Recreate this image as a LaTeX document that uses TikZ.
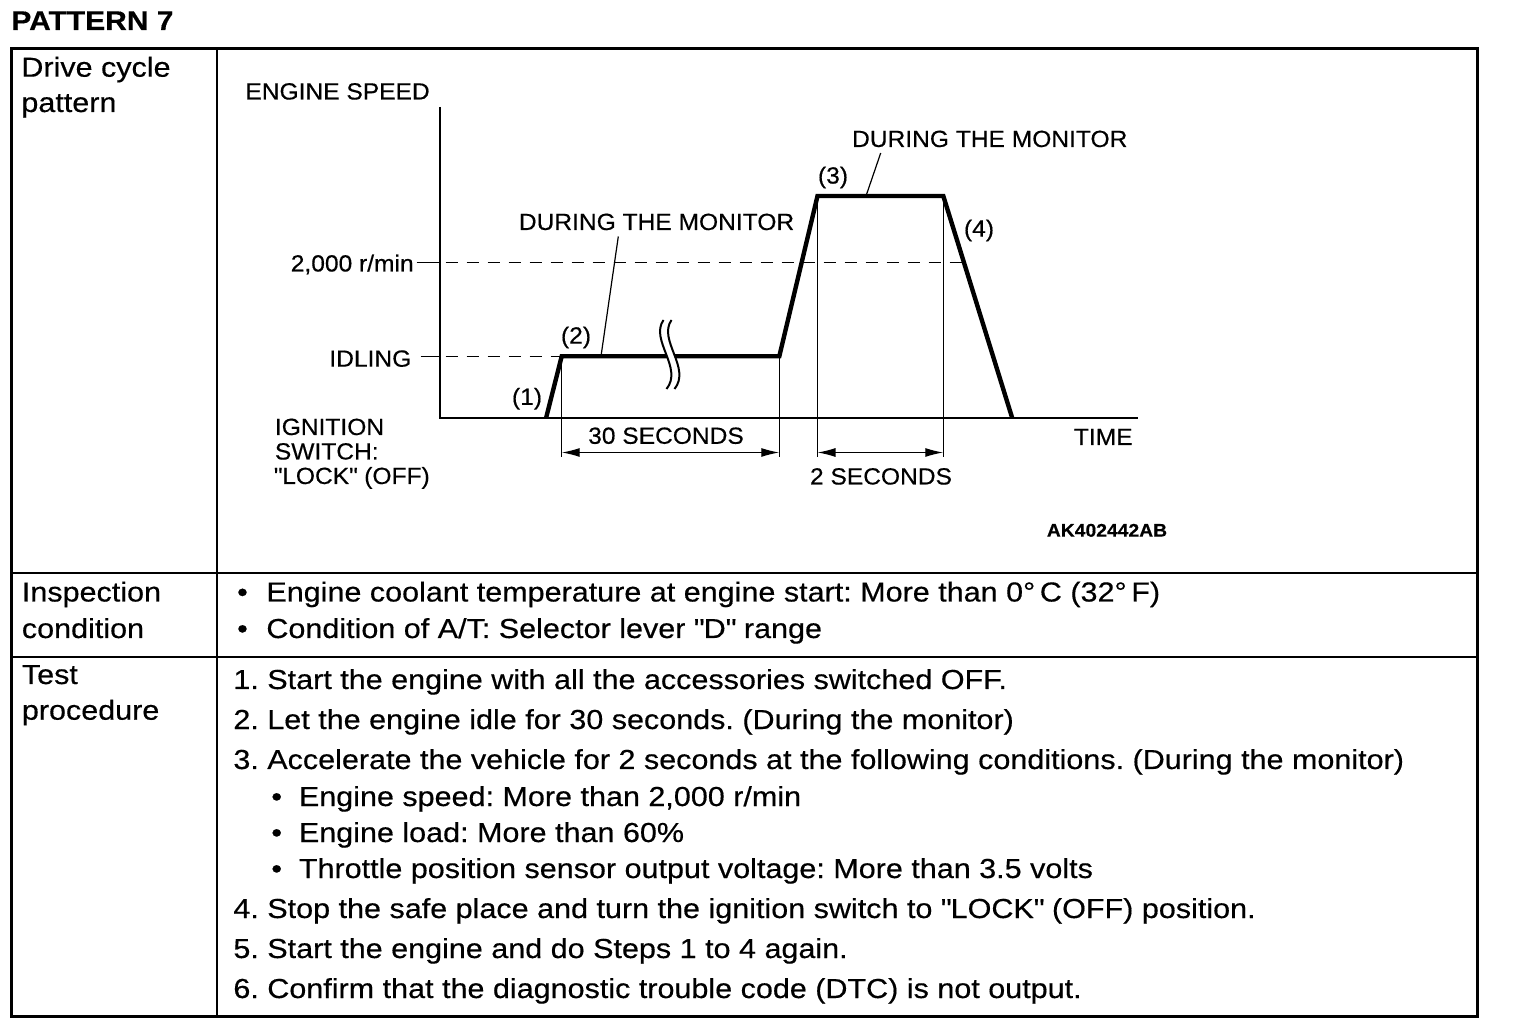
\documentclass[tikz,border=0pt]{standalone}
\usepackage{fontspec}
\setmainfont[FakeStretch=1.11, FakeBold=0.4]{Liberation Sans}
\newfontfamily\chartfont[FakeStretch=1.05, FakeBold=0.4]{Liberation Sans}
\usetikzlibrary{arrows.meta}

\begin{document}
\begin{tikzpicture}[x=0.5pt,y=-0.5pt,
  celltext/.style={anchor=base west, inner sep=0pt, font=\frenchspacing\fontsize{13.75pt}{13.75pt}\selectfont},
  charttext/.style={inner sep=0pt, font=\chartfont\fontsize{11.7pt}{11.7pt}\selectfont},
  tableline/.style={line width=1.1pt},
  runline/.style={line width=2.2pt, line join=miter},
  axisline/.style={line width=1pt},
  thinline/.style={line width=0.6pt},
  levelline/.style={line width=0.75pt, dash pattern=on 6pt off 4.5pt},
  spanarrow/.style={line width=0.6pt, {Latex[length=9pt,width=4.5pt]}-{Latex[length=9pt,width=4.5pt]}}]%
\useasboundingbox (0,0) rectangle (1520,1036);%
% table frame
\node[font=\bfseries\fontsize{13.5pt}{13.5pt}\selectfont, anchor=base west, inner sep=0pt] (title) at (11,30) {PATTERN 7};%
\draw[tableline, line width=1.3pt] (11.5,48.5) rectangle (1477.3,1016.7);%
\draw[tableline] (217.3,48.5) -- (217.3,1016.7);%
\draw[tableline] (11.5,573.3) -- (1477.3,573.3);%
\draw[tableline] (11.5,657) -- (1477.3,657);%
\node[celltext] (cycle1) at (21,76.7) {Drive cycle};%
\node[celltext] (cycle2) at (21,112) {pattern};%
\node[celltext] (insp1) at (21.5,601.5) {Inspection};%
\node[celltext] (insp2) at (21.5,638) {condition};%
\node[celltext] (test1) at (21.5,684) {Test};%
\node[celltext] (test2) at (21.5,719.7) {procedure};%
% chart
\coordinate (org) at (439.5,418.3);%
\coordinate (ytop) at (439.5,107);%
\coordinate (xend) at (1137.7,418.3);%
\coordinate (p1) at (546,418.3);%
\coordinate (p2) at (561.7,356.3);%
\coordinate (p3) at (779.3,356.3);%
\coordinate (p4) at (817.5,196);%
\coordinate (p5) at (943.3,196);%
\coordinate (p6) at (1012.3,418.3);%
\coordinate (rpmax) at (439.5,262.3);%
\coordinate (rpmend) at (964,262.3);%
\coordinate (idleax) at (439.5,356.3);%
\coordinate (dimy) at (0,452.5);%
\node[charttext, anchor=base west] (yname) at (245,99.5) {ENGINE SPEED};%
\node[charttext, anchor=base east, inner xsep=1.3pt] (rpm) at (416.7,271.5) {2,000 r/min};%
\node[charttext, anchor=base east, inner xsep=4.5pt] (idle) at (420.7,366.7) {IDLING};%
\node[charttext, anchor=base west] (ign1) at (274.5,435) {IGNITION};%
\node[charttext, anchor=base west] (ign2) at (274.5,459.5) {SWITCH:};%
\node[charttext, anchor=base west] (ign3) at (273.5,484) {\textquotedbl LOCK\textquotedbl\ (OFF)};%
\node[charttext, anchor=base west] (mon1) at (518.5,230) {DURING THE MONITOR};%
\node[charttext, anchor=base west] (mon2) at (851.7,147) {DURING THE MONITOR};%
\node[charttext] (n1) at (527,398.8) {(1)};%
\node[charttext] (n2) at (576,337.5) {(2)};%
\node[charttext] (n3) at (833,177.5) {(3)};%
\node[charttext] (n4) at (979,230.5) {(4)};%
\node[charttext, anchor=base] (sec30) at (666,443.8) {30 SECONDS};%
\node[charttext, anchor=base] (sec2) at (881,484.5) {2 SECONDS};%
\node[charttext, anchor=base east] (tname) at (1133,445) {TIME};%
\node[font=\chartfont\bfseries\fontsize{9.2pt}{9.2pt}\selectfont, anchor=base, inner sep=0pt] (code) at (1107,536.7) {AK402442AB};%
\draw[axisline] (ytop) -- (org) -- (xend);%
\draw[thinline] (rpm.east |- rpmax) -- (rpmax);%
\draw[levelline] (rpmax) ++(6,0) -- (rpmend);%
\draw[thinline] (idle.east |- idleax) -- (idleax);%
\draw[levelline] (idleax) ++(6,0) -- (p2);%
\draw[thinline] (p2) -- ++(0,100.4);%
\draw[thinline] (p3) -- ++(0,100.4);%
\draw[thinline] (p4) -- ++(0,260.7);%
\draw[thinline] (p5) -- ++(0,260.7);%
\draw[spanarrow] (p2 |- dimy) -- (p3 |- dimy);%
\draw[spanarrow] (p4 |- dimy) -- (p5 |- dimy);%
\draw[runline] (p1) -- (p2) -- (p3) -- (p4) -- (p5) -- (p6);%
% break mark on the idle run
\fill[white] (663.5,320) .. controls (649.5,340) and (683.5,368) .. (666.5,389) -- (674.5,389) .. controls (691.5,368) and (657.5,340) .. (671.5,320) -- cycle;%
\draw[line width=1pt] (663.5,320) .. controls (649.5,340) and (683.5,368) .. (666.5,389);%
\draw[line width=1pt] (671.5,320) .. controls (657.5,340) and (691.5,368) .. (674.5,389);%
% leaders
\coordinate (m1a) at (618.3,236.5);%
\coordinate (m1b) at (601,356.3);%
\coordinate (m2a) at (880.7,153);%
\coordinate (m2b) at (866,196);%
\draw[thinline] (m1a) -- (m1b);%
\draw[thinline] (m2a) -- (m2b);%
% conditions
\node[celltext, anchor=base] (dot1) at (242.5,601.5) {•};%
\node[celltext] (cond1) at (266,601.5) {Engine coolant temperature at engine start: More than 0°\,C (32°\,F)};%
\node[celltext, anchor=base] (dot2) at (242.5,638) {•};%
\node[celltext] (cond2) at (266,638) {Condition of A/T: Selector lever \textquotedbl D\textquotedbl\ range};%
% procedure
\node[celltext] (step1) at (233,689) {1. Start the engine with all the accessories switched OFF.};%
\node[celltext] (step2) at (233,729) {2. Let the engine idle for 30 seconds. (During the monitor)};%
\node[celltext] (step3) at (233,769) {3. Accelerate the vehicle for 2 seconds at the following conditions. (During the monitor)};%
\node[celltext, anchor=base] (dot3) at (276.7,806) {•};%
\node[celltext] (sub1) at (298.5,806) {Engine speed: More than 2,000 r/min};%
\node[celltext, anchor=base] (dot4) at (276.7,842) {•};%
\node[celltext] (sub2) at (298.5,842) {Engine load: More than 60\%};%
\node[celltext, anchor=base] (dot5) at (276.7,878) {•};%
\node[celltext] (sub3) at (298.5,878) {Throttle position sensor output voltage: More than 3.5 volts};%
\node[celltext] (step4) at (233,918) {4. Stop the safe place and turn the ignition switch to \textquotedbl LOCK\textquotedbl\ (OFF) position.};%
\node[celltext] (step5) at (233,958) {5. Start the engine and do Steps 1 to 4 again.};%
\node[celltext] (step6) at (233,998) {6. Confirm that the diagnostic trouble code (DTC) is not output.};%
\end{tikzpicture}
\end{document}
